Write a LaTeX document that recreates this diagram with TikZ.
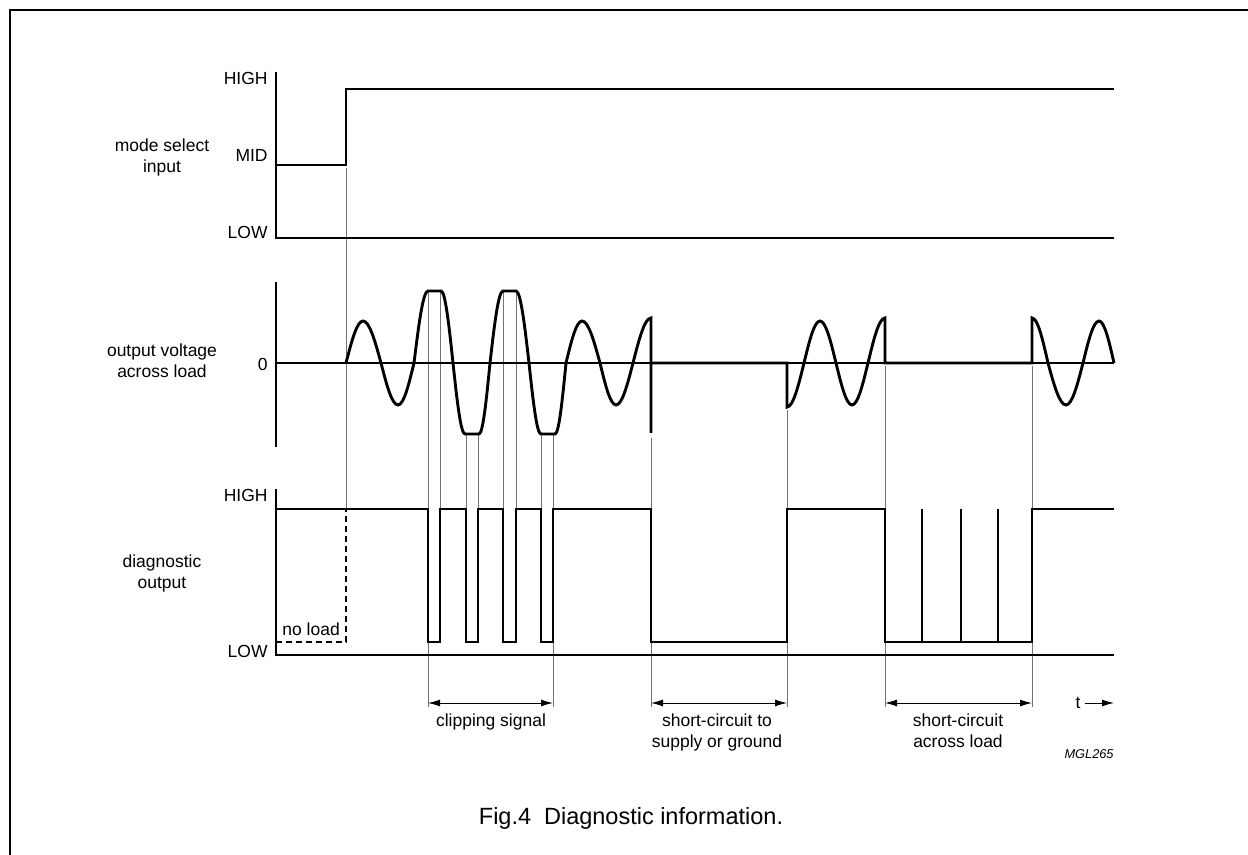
\documentclass[tikz,border=0pt]{standalone}
\usepackage{fontspec}
\setmainfont{Liberation Sans}
\usetikzlibrary{arrows.meta}

\begin{document}
\begin{tikzpicture}[x=0.5pt,y=-0.5pt,
  axis/.style={line width=0.7pt},
  sig/.style={line width=1.45pt},
  guide/.style={line width=0.45pt, black!55},
  dim/.style={line width=0.5pt, {Latex[length=6pt,width=3.5pt]}-{Latex[length=6pt,width=3.5pt]}},
  lbl/.style={font=\fontsize{8.75}{10.5}\selectfont, align=center, inner sep=0pt},
  lvl/.style={font=\fontsize{8.75}{10.5}\selectfont, anchor=base east, inner sep=0pt}]
\useasboundingbox (0,0) rectangle (1248,855);
\draw[line width=1pt] (10,855) -- (10,10) -- (1248,10);
%
\foreach \x/\a/\b in {346/168/509, 428/291/707, 440/291/509, 466/434/509, 478/434/509,
  503/291/509, 516/291/509, 541/434/509, 553/434/707, 651/438/707, 787/410/707,
  885/366/707, 1032/366/707}
  \draw[guide] (\x,\a) -- (\x,\b);
%
\node[lbl](mode) at (162,157) {mode select\\input};
\node[lvl](modehigh) at (268,85) {HIGH};
\node[lvl](modemid) at (268,162) {MID};
\node[lvl](modelow) at (268,239) {LOW};
\draw[axis] (276,72) -- (276,238) -- (1114,238);
\draw[sig] (276,165) -- (346,165) -- (346,89) -- (1114,89);
%
\node[lbl](volt) at (162,361) {output voltage\\across load};
\node[lvl](zero) at (268,371) {0};
\draw[axis] (276,282) -- (276,447);
\draw[axis] (276,363) -- (1114,363);
\draw[sig] (346,363) sin (363,321) cos (381,363) sin (398,405) cos (414,363)
  sin (428,291) -- (441,291) cos (453,363) sin (465,434) -- (479,434) cos (490,363)
  sin (503,291) -- (516,291) cos (529,363) sin (541,434) -- (555,434) cos (566,363)
  sin (582,321) cos (600,363) sin (616,405) cos (633,363) sin (651,318) -- (651,433);
\draw[sig] (651,363) -- (787,363) -- (787,407) cos (804,363) sin (820,321) cos (836,363)
  sin (852,405) cos (868,363) sin (885,318) -- (885,363) -- (1032,363) -- (1032,318)
  cos (1048,363) sin (1066,405) cos (1083,363) sin (1099,321) cos (1114,363);
%
\node[lbl](diag) at (162,573) {diagnostic\\output};
\node[lvl](diaghigh) at (268,502) {HIGH};
\node[lvl](diaglow) at (268,657) {LOW};
\draw[axis] (276,489) -- (276,655) -- (1114,655);
\draw[sig] (276,509) -- (428,509) -- (428,642) -- (440,642) -- (440,509) -- (466,509)
  -- (466,642) -- (478,642) -- (478,509) -- (503,509) -- (503,642) -- (516,642)
  -- (516,509) -- (541,509) -- (541,642) -- (553,642) -- (553,509) -- (651,509)
  -- (651,642) -- (787,642) -- (787,509) -- (885,509) -- (885,642) -- (1032,642)
  -- (1032,509) -- (1114,509);
\foreach \x in {922,961,998}
  \draw[sig] (\x,642) -- (\x,509);
\draw[sig, dash pattern=on 3pt off 2pt] (276,642) -- (346,642) -- (346,509);
\node[lvl, anchor=base west](noload) at (282,635) {no load};
%
\coordinate (clipA) at (428,703); \coordinate (clipB) at (553,703);
\coordinate (supA) at (651,703); \coordinate (supB) at (787,703);
\coordinate (loadA) at (885,703); \coordinate (loadB) at (1032,703);
\coordinate (tA) at (1085,703); \coordinate (tB) at (1114,703);
\draw[dim] (clipA) -- (clipB);
\draw[dim] (supA) -- (supB);
\draw[dim] (loadA) -- (loadB);
\draw[line width=0.5pt, -{Latex[length=6pt,width=3.5pt]}] (tA) -- (tB);
\node[lbl, anchor=base](clip) at (491,726) {clipping signal};
\node[lbl](supply) at (717,732) {short-circuit to\\supply or ground};
\node[lbl](load) at (958,731) {short-circuit\\across load};
\node[lbl, anchor=base](t) at (1078,708) {t};
\node[font=\fontsize{6.4}{7}\selectfont\itshape, anchor=base east, inner sep=0pt](code) at (1114,758) {MGL265};
\node[font=\fontsize{11.75}{14}\selectfont, anchor=base, inner sep=0pt](caption) at (631,824) {Fig.4\hspace{0.55em}Diagnostic information.};
\end{tikzpicture}
\end{document}
